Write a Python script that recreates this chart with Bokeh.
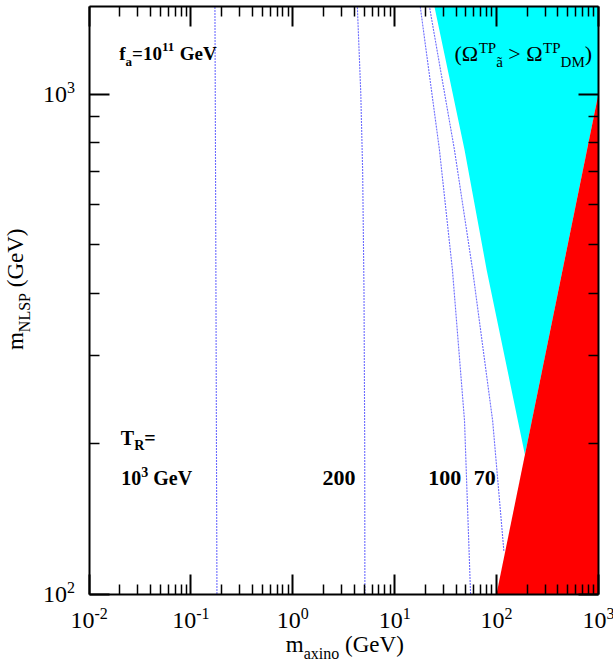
from bokeh.plotting import figure
from bokeh.models import Label, LogAxis, FixedTicker, Range1d
from bokeh.embed import file_html
from bokeh.resources import INLINE

# ---------------- data ----------------
x_ticks = [1e-2, 1e-1, 1e0, 1e1, 1e2, 1e3]
x_tick_exp = ["-2", "-1", "0", "1", "2", "3"]
y_ticks = [1e2, 1e3]
y_tick_exp = ["2", "3"]

# T_R = 10^3 GeV contour
tr1000_x = [0.180, 0.178, 0.176, 0.174, 0.172]
tr1000_y = [100, 200, 400, 800, 1500]
# T_R = 200 GeV contour
tr200_x = [5.10, 5.08, 5.00, 4.85, 4.65, 4.30]
tr200_y = [100, 200, 400, 700, 1000, 1500]
# T_R = 100 GeV contour
tr100_x = [55.6, 48.5, 36.9, 27.5, 17.8]
tr100_y = [100, 222, 445, 774, 1500]
# T_R = 70 GeV contour
tr70_x = [118.0, 91.6, 58.2, 38.6, 21.9]
tr70_y = [122, 222, 445, 774, 1500]

# Omega^TP_axino > Omega^TP_DM boundary (cyan region to the right)
omega_x = [24.5, 48.5, 80.0, 190.0]
omega_y = [1500, 774, 445, 190]
# m_axino > m_NLSP (red region)
red_x = [100, 1000, 1000]
red_y = [100, 1000, 100]

X_MIN, X_MAX = 1e-2, 1e3
Y_MIN, Y_MAX = 1e2, 1.5e3

# ---------------- layout geometry (pixels) ----------------
CW, CH = 613, 663
PAD = 2                      # approx. size taken by each (label-less) axis panel
BOX_L, BOX_R, BOX_B = 90, 596, 592
PX_DEC_X = (BOX_R - BOX_L) / 5.0
PX_DEC_Y = 497.0

x0 = 10 ** (-2 - (BOX_L - PAD) / PX_DEC_X)
x1 = 10 ** (3 + (CW - PAD - BOX_R) / PX_DEC_X)
y0 = 10 ** (2 - (CH - PAD - BOX_B) / PX_DEC_Y)
y1 = 10 ** (2 + (BOX_B - PAD) / PX_DEC_Y)

p = figure(width=CW, height=CH, x_axis_type="log", y_axis_type="log",
           x_range=Range1d(x0, x1), y_range=Range1d(y0, y1),
           output_backend="svg", toolbar_location=None, min_border=0)
p.grid.visible = False
p.background_fill_color = "white"
p.border_fill_color = "white"
p.outline_line_color = None

cyan_x = omega_x + [X_MAX, X_MAX]
cyan_y = omega_y + [1000, Y_MAX]
p.patch(cyan_x, cyan_y, fill_color="#00ffff", line_color=None)
p.patch(red_x, red_y, fill_color="#ff0000", line_color=None)

for xs, ys in [(tr1000_x, tr1000_y), (tr200_x, tr200_y), (tr100_x, tr100_y), (tr70_x, tr70_y)]:
    p.line(xs, ys, line_color="#5c5cff", line_alpha=0.9, line_width=1.1, line_dash="2 1")

# keep everything outside the plotting box white
p.quad(left=[X_MAX], right=[x1 * 2], bottom=[y0 / 2], top=[y1 * 2], fill_color="white", line_color=None)
p.quad(left=[x0 / 2], right=[x1 * 2], bottom=[Y_MAX], top=[y1 * 2], fill_color="white", line_color=None)

x_minor = [k * 10.0 ** e for e in range(-2, 3) for k in range(2, 10)]
y_minor = [k * 100.0 for k in range(2, 10)]

def style_axis(ax, major, minor, loc, bounds):
    ax.ticker = FixedTicker(ticks=major, minor_ticks=minor)
    ax.fixed_location = loc
    ax.bounds = bounds
    ax.major_tick_in = 20
    ax.major_tick_out = 0
    ax.minor_tick_in = 10
    ax.minor_tick_out = 0
    ax.major_tick_line_width = 2
    ax.minor_tick_line_width = 1.5
    ax.major_tick_line_color = "black"
    ax.minor_tick_line_color = "black"
    ax.axis_line_width = 2
    ax.axis_line_color = "black"
    ax.major_label_text_font_size = "1px"
    ax.major_label_text_color = None
    ax.major_label_standoff = 0

style_axis(p.xaxis[0], x_ticks, x_minor, Y_MIN, (X_MIN, X_MAX))
style_axis(p.yaxis[0], y_ticks, y_minor, X_MIN, (Y_MIN, Y_MAX))
top = LogAxis()
right = LogAxis()
style_axis(top, x_ticks, x_minor, Y_MAX, (X_MIN, X_MAX))
style_axis(right, y_ticks, y_minor, X_MAX, (Y_MIN, Y_MAX))
p.add_layout(top, "above")
p.add_layout(right, "right")

# ---------------- rich text helper ----------------
W_REG = {"0": .5, "1": .5, "2": .5, "3": .5, "4": .5, "5": .5, "6": .5, "7": .5, "8": .5, "9": .5,
         " ": .25, "(": .333, ")": .333, "=": .564, "-": .333, "G": .722, "e": .444, "V": .722,
         "m": .778, "a": .444, "x": .5, "i": .278, "n": .5, "o": .5, "N": .722, "L": .611,
         "S": .556, "P": .556, "T": .611, "R": .667, "f": .333, "D": .722, "M": .889,
         ">": .564, "\u03a9": .768, "\u00e3": .444}
W_BOLD = dict(W_REG)
W_BOLD.update({"a": .5, "=": .57, "G": .778, "T": .667, "R": .722})

FONT = "Liberation Serif"
BASE_FIX = 0.43   # lifts the drawn text so that its baseline sits on the anchor

def tw(s, size, bold):
    tab = W_BOLD if bold else W_REG
    return sum(tab.get(c, .5) for c in s) * size

def rich(x, y, pieces, align="left", xo=0.0, yo=0.0, bold=False, angle=0.0):
    total = sum(tw(t, s, bold) for t, s, sh in pieces)
    cur = {"left": 0.0, "center": -total / 2, "right": -total}[align]
    for t, s, sh in pieces:
        lead = tw(t[:len(t) - len(t.lstrip())], s, bold)
        txt = t.strip()
        pos = cur + lead
        shift = sh + BASE_FIX * s
        if angle == 0:
            dx, dy = pos, shift
        else:
            dx, dy = -shift, pos
        p.add_layout(Label(x=x, y=y, x_offset=float(xo + dx), y_offset=float(yo + dy), text=txt,
                           text_font=FONT, text_font_size=f"{s}px",
                           text_font_style="bold" if bold else "normal",
                           text_color="black", text_baseline="alphabetic",
                           text_align="left", angle=angle))
        cur += tw(t, s, bold)

# tick labels
for v, e in zip(x_ticks, x_tick_exp):
    rich(v, Y_MIN, [("10", 24, 0), (e, 16, 11)], align="center", yo=-37)
for v, e in zip(y_ticks, y_tick_exp):
    rich(X_MIN, v, [("10", 24, 0), (e, 16, 11)], align="right", xo=-14, yo=-11)

# axis titles
rich(3.24, Y_MIN, [("m", 23, 0), ("axino", 16, -6), (" (GeV)", 23, 0)], align="center", yo=-60)
rich(X_MIN, 407, [("m", 23, 0), ("NLSP", 16, -6), (" (GeV)", 23, 0)],
     align="center", xo=-64, angle=1.5707963)

# annotations
rich(0.0198, 1159, [("f", 19, 0), ("a", 13, -5), ("=10", 19, 0), ("11", 13, 9), (" GeV", 19, 0)], bold=True)
rich(0.0205, 197, [("T", 20, 0), ("R", 14, -5), ("=", 20, 0)], bold=True)
rich(0.0207, 164, [("10", 20, 0), ("3", 14, 9), (" GeV", 20, 0)], bold=True)
rich(1.96, 163.5, [("200", 22, 0)], bold=True)
rich(21.4, 163.5, [("100", 22, 0)], bold=True)
rich(59.6, 163.5, [("70", 22, 0)], bold=True)
rich(38.6, 1154, [("(\u03a9", 22, 0), ("TP", 15, 9), ("\u00e3", 15, -5), (" > \u03a9", 22, 0),
                  ("TP", 15, 9), ("DM", 15, -5), (")", 22, 0)])

open("out.html", "w").write(file_html(p, INLINE))
